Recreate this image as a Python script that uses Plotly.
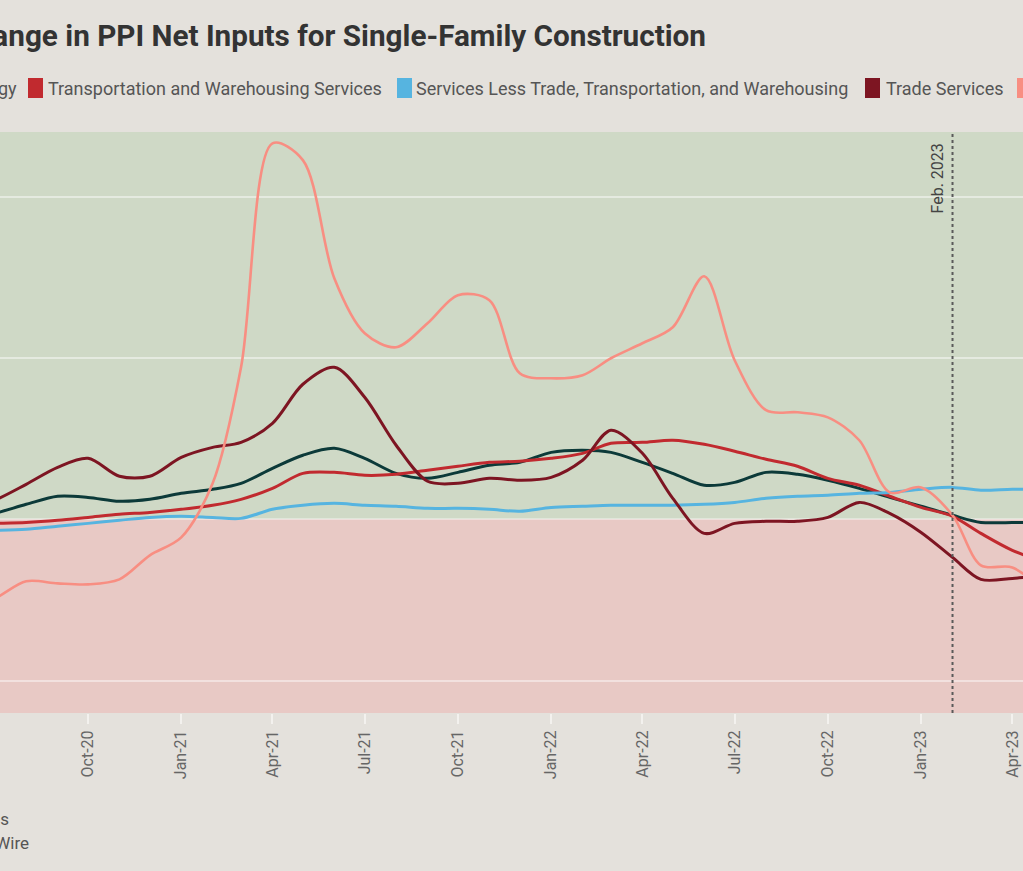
import plotly.graph_objects as go

# ---------------- data ----------------
months = ["2020-06-01", "2020-07-01", "2020-08-01", "2020-09-01", "2020-10-01", "2020-11-01", "2020-12-01",
          "2021-01-01", "2021-02-01", "2021-03-01", "2021-04-01", "2021-05-01", "2021-06-01",
          "2021-07-01", "2021-08-01", "2021-09-01", "2021-10-01", "2021-11-01", "2021-12-01",
          "2022-01-01", "2022-02-01", "2022-03-01", "2022-04-01", "2022-05-01", "2022-06-01",
          "2022-07-01", "2022-08-01", "2022-09-01", "2022-10-01", "2022-11-01", "2022-12-01",
          "2023-01-01", "2023-02-01", "2023-03-01", "2023-04-01", "2023-05-01"]

goods_less_food_energy = [0.0, 0.37, 0.93, 1.43, 1.36, 1.12, 1.24,
                          1.61, 1.86, 2.23, 3.16, 3.97, 4.40,
                          3.78, 2.85, 2.54, 2.91, 3.35, 3.53,
                          4.15, 4.28, 4.15, 3.53, 2.85, 2.11,
                          2.29, 2.91, 2.79, 2.42, 1.92, 1.36,
                          0.81, 0.25, -0.19, -0.19, -0.20]

transport_warehousing = [-0.30, -0.25, -0.19, -0.06, 0.12, 0.31, 0.43,
                         0.62, 0.87, 1.24, 1.92, 2.85, 2.91,
                         2.73, 2.79, 3.04, 3.29, 3.53, 3.60,
                         3.78, 4.09, 4.71, 4.77, 4.90, 4.65,
                         4.22, 3.72, 3.29, 2.54, 2.11, 1.43,
                         0.74, 0.19, -0.87, -1.92, -2.60]

services_less_ttw = [-0.70, -0.68, -0.62, -0.43, -0.25, -0.06, 0.12,
                     0.19, 0.12, 0.06, 0.62, 0.87, 0.99,
                     0.87, 0.81, 0.68, 0.68, 0.62, 0.50,
                     0.74, 0.81, 0.87, 0.87, 0.87, 0.93,
                     1.05, 1.30, 1.43, 1.49, 1.61, 1.67,
                     1.86, 1.98, 1.80, 1.86, 1.86]

trade_services = [0.50, 1.18, 2.17, 3.22, 3.78, 2.67, 2.67,
                  3.84, 4.46, 4.77, 5.95, 8.37, 9.42,
                  7.56, 4.59, 2.36, 2.23, 2.54, 2.42,
                  2.60, 3.66, 5.52, 4.09, 1.30, -0.87,
                  -0.25, -0.12, -0.12, 0.12, 1.05, 0.37,
                  -0.81, -2.36, -3.72, -3.66, -3.50]

energy = [-5.5, -4.90, -3.84, -3.97, -4.03, -3.72, -2.23,
          -1.12, 2.23, 9.42, 23.3, 22.26, 14.94,
          11.53, 10.66, 12.15, 13.89, 13.58, 9.05,
          8.74, 8.93, 9.98, 10.91, 11.90, 15.06,
          9.86, 6.76, 6.63, 6.32, 4.90, 1.67,
          1.98, 0.25, -2.85, -2.98, -4.40]

series_names = ["Goods Less Food and Energy", "Transportation and Warehousing Services",
                "Services Less Trade, Transportation, and Warehousing", "Trade Services", "Energy"]
series_values = [goods_less_food_energy, transport_warehousing, services_less_ttw, trade_services, energy]
series_colors = ["#0c3a39", "#c12a2f", "#56b4e0", "#7d1522", "#f88e82"]
series_widths = [3, 3, 3, 3, 2.6]

tick_vals = ["2020-07-01", "2020-10-01", "2021-01-01", "2021-04-01", "2021-07-01", "2021-10-01",
             "2022-01-01", "2022-04-01", "2022-07-01", "2022-10-01", "2023-01-01", "2023-04-01"]
tick_text = ["Jul-20", "Oct-20", "Jan-21", "Apr-21", "Jul-21", "Oct-21",
             "Jan-22", "Apr-22", "Jul-22", "Oct-22", "Jan-23", "Apr-23"]
y_ticks = [-10, 0, 10, 20]
marker_date = "2023-02-01"
marker_label = "Feb. 2023"

title_text = "Year-over-Year Change in PPI Net Inputs for Single-Family Construction"
note_lines = ["Source: U.S. Bureau of Labor Statistics", "Chart: Construction Wire"]

# ---------------- layout helpers ----------------
W, H = 1023, 871
PLOT_TOP, PLOT_BOTTOM = 132, 713
FONT = "Roboto, sans-serif"
TEXT_GRAY = "#555555"
PAPER = "#e4e1dc"


def px_x(px):
    return px / W


def px_y(py):
    return (PLOT_BOTTOM - py) / (PLOT_BOTTOM - PLOT_TOP)


fig = go.Figure()
for name, vals, col, w in zip(series_names, series_values, series_colors, series_widths):
    fig.add_trace(go.Scatter(x=months, y=vals, mode="lines", name=name,
                             line=dict(color=col, width=w, shape="spline", smoothing=0.9),
                             showlegend=False, hoverinfo="skip"))

Y_MIN, Y_MAX = -12.0, 24.0

shapes = [
    dict(type="rect", xref="paper", yref="y", x0=0, x1=1, y0=0, y1=Y_MAX,
         fillcolor="#cfd9c6", line=dict(width=0), layer="below"),
    dict(type="rect", xref="paper", yref="y", x0=0, x1=1, y0=Y_MIN, y1=0,
         fillcolor="#e8c9c5", line=dict(width=0), layer="below"),
    dict(type="line", xref="x", yref="paper", x0=marker_date, x1=marker_date, y0=0, y1=1,
         line=dict(color="#5a5a5a", width=2, dash="dot")),
]

annotations = [
    dict(xref="x", yref="paper", x=marker_date, y=px_y(178.5), xshift=-15.5,
         text=marker_label, textangle=-90, showarrow=False, xanchor="center", yanchor="middle",
         font=dict(family=FONT, size=16, color="#444444")),
]

# manual legend (boxes + labels)
legend_box_left = [-200, 28, 397, 865, 1017]
legend_text_left = [None, 46, 414, 884, 1038]
for i, (name, col) in enumerate(zip(series_names, series_colors)):
    bx = legend_box_left[i]
    shapes.append(dict(type="rect", xref="paper", yref="paper",
                       x0=px_x(bx), x1=px_x(bx + 15), y0=px_y(98), y1=px_y(78),
                       fillcolor=col, line=dict(width=0)))
    if legend_text_left[i] is None:
        annotations.append(dict(xref="paper", yref="paper", x=px_x(19), y=px_y(88),
                                text=name, showarrow=False, xanchor="right", yanchor="middle",
                                font=dict(family=FONT, size=18, color=TEXT_GRAY)))
    else:
        annotations.append(dict(xref="paper", yref="paper", x=px_x(legend_text_left[i]), y=px_y(88),
                                text=name, showarrow=False, xanchor="left", yanchor="middle",
                                font=dict(family=FONT, size=18, color=TEXT_GRAY)))

# notes at bottom
annotations.append(dict(xref="paper", yref="paper", x=px_x(11), y=px_y(819), text=note_lines[0],
                        showarrow=False, xanchor="right", yanchor="middle",
                        font=dict(family=FONT, size=17, color=TEXT_GRAY)))
annotations.append(dict(xref="paper", yref="paper", x=px_x(31), y=px_y(843), text=note_lines[1],
                        showarrow=False, xanchor="right", yanchor="middle",
                        font=dict(family=FONT, size=17, color=TEXT_GRAY)))

fig.update_layout(
    width=W, height=H,
    margin=dict(l=0, r=0, t=PLOT_TOP, b=H - PLOT_BOTTOM, pad=0),
    paper_bgcolor=PAPER,
    plot_bgcolor=PAPER,
    title=dict(text="<b>" + title_text + "</b>", xref="container", yref="container",
               x=706 / W, xanchor="right", y=1 - 36 / H, yanchor="middle",
               font=dict(family=FONT, size=29.7, color="#333333")),
    shapes=shapes,
    annotations=annotations,
    showlegend=False,
    xaxis=dict(type="date", range=["2020-07-06 04:00", "2023-04-11 13:00"],
               tickvals=tick_vals, ticktext=tick_text, tickangle=-90,
               ticks="outside", ticklen=10, tickwidth=2, tickcolor="#f3f1ee",
               tickfont=dict(family=FONT, size=16, color="#666666"),
               showgrid=False, zeroline=False, showline=False, automargin=False),
    yaxis=dict(range=[Y_MIN, Y_MAX], tickvals=y_ticks, showticklabels=False,
               showgrid=True, gridcolor="rgba(255,255,255,0.45)", gridwidth=2,
               zeroline=True, zerolinecolor="rgba(255,255,255,0.35)", zerolinewidth=2,
               showline=False, automargin=False),
)

fig.write_html("out.html", config={"displayModeBar": False},
               post_script="document.body.style.margin='0';document.body.style.background='%s';" % PAPER)
